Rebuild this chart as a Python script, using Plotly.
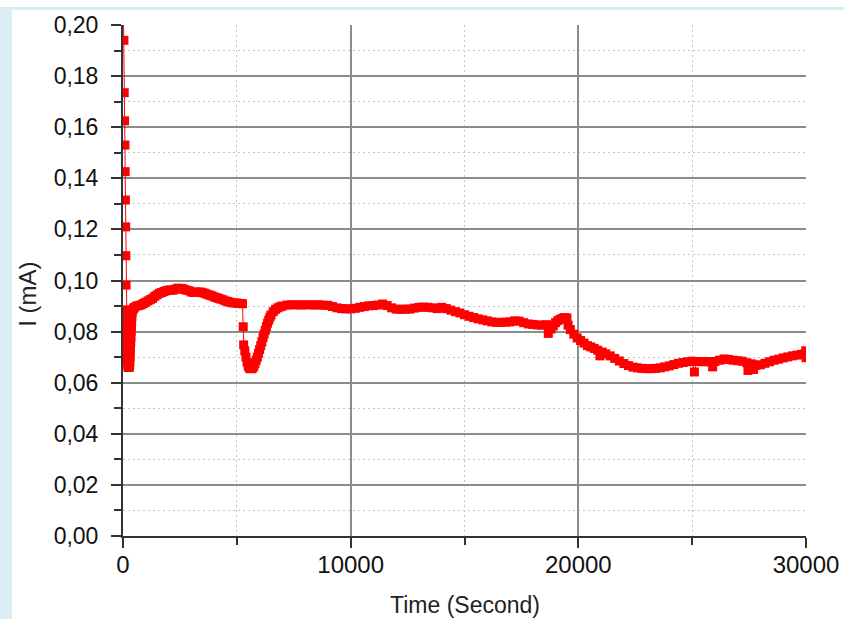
import plotly.graph_objects as go

# ---- data ----
time_s = [
    10, 40, 55, 70, 85, 95, 105, 115, 125, 135, 140,
    150, 155, 160, 165, 170, 175, 180, 185, 190, 195, 200, 210, 230, 250, 270, 290,
    300, 310, 320, 330, 340, 350, 360, 370, 380, 390, 400, 430, 460, 500,
    600, 700, 800, 900, 1000, 1100, 1200, 1300, 1400, 1500, 1600, 1700, 1800, 1900,
    2000, 2100, 2200, 2300, 2400, 2500, 2600, 2700, 2800, 2900, 3000, 3100, 3200,
    3300, 3400, 3500, 3600, 3700, 3800, 3900, 4000, 4100, 4200, 4300, 4400, 4500,
    4600, 4700, 4800, 4900, 5000, 5100, 5200, 5250, 5280, 5300, 5350, 5400, 5450,
    5500, 5550, 5600, 5650, 5700, 5750, 5800, 5850, 5900, 5950, 6000, 6050, 6100,
    6150, 6200, 6250, 6300, 6350, 6400, 6450, 6500, 6600, 6700, 6800, 6900, 7000,
    7200, 7400, 7600, 7800, 8000, 8200, 8400, 8600, 8800, 9000, 9200, 9400, 9600,
    9800, 10000, 10200, 10400, 10600, 10800, 11000, 11200, 11400, 11600, 11800,
    12000, 12200, 12400, 12600, 12800, 13000, 13200, 13400, 13600, 13800, 14000,
    14200, 14400, 14600, 14800, 15000, 15200, 15400, 15600, 15800, 16000, 16200,
    16400, 16600, 16800, 17000, 17200, 17400, 17600, 17800, 18000, 18200, 18400,
    18600, 18680, 18800, 18900, 19000, 19100, 19200, 19300, 19400, 19500, 19550,
    19650, 19800, 19950, 20100, 20250, 20400, 20550, 20700, 20850, 20950, 21050,
    21200, 21400, 21600, 21800, 22000, 22200, 22400, 22600, 22800, 23000, 23200,
    23400, 23600, 23800, 24000, 24200, 24400, 24600, 24800, 25000, 25100, 25200,
    25400, 25600, 25800, 25900, 26000, 26200, 26400, 26600, 26800, 27000, 27200,
    27400, 27450, 27600, 27700, 27800, 28000, 28200, 28400, 28600, 28800, 29000,
    29200, 29400, 29600, 29800, 29950, 29990, 30000,
]

current_ma = [
    0.210, 0.194, 0.1735, 0.1625, 0.153, 0.1426, 0.1315, 0.121, 0.1097, 0.0982, 0.0885,
    0.0878, 0.086, 0.084, 0.082, 0.080, 0.078, 0.076, 0.074, 0.072, 0.070, 0.068, 0.0665, 0.066, 0.066, 0.066, 0.0665,
    0.068, 0.070, 0.072, 0.074, 0.076, 0.078, 0.080, 0.082, 0.084, 0.086, 0.0875, 0.0885, 0.089, 0.0895,
    0.0900, 0.0902, 0.0905, 0.0910, 0.0915, 0.0920, 0.0925, 0.0930, 0.0938, 0.0944, 0.0950, 0.0953, 0.0957, 0.0960,
    0.0962, 0.0963, 0.0962, 0.0966, 0.0970, 0.0968, 0.0969, 0.0965, 0.0962, 0.0960, 0.0955, 0.0953, 0.0955,
    0.0954, 0.0955, 0.0952, 0.0950, 0.0946, 0.0943, 0.0940, 0.0936, 0.0933, 0.0930, 0.0927, 0.0924, 0.0920,
    0.0918, 0.0915, 0.0913, 0.0912, 0.0912, 0.0910, 0.0910, 0.0909, 0.0819, 0.0748, 0.0725, 0.0700, 0.0680,
    0.0665, 0.0657, 0.0655, 0.0655, 0.0658, 0.0665, 0.0676, 0.0688, 0.0700, 0.0715, 0.0730, 0.0745, 0.0760,
    0.0777, 0.0790, 0.0805, 0.0820, 0.0833, 0.0845, 0.0856, 0.0865, 0.0878, 0.0887, 0.0893, 0.0897, 0.0900,
    0.0904, 0.0905, 0.0905, 0.0904, 0.0905, 0.0905, 0.0904, 0.0905, 0.0903, 0.0903, 0.0898, 0.0893, 0.0890,
    0.0889, 0.0889, 0.0891, 0.0895, 0.0898, 0.0901, 0.0902, 0.0904, 0.0908, 0.0902, 0.0893,
    0.0888, 0.0887, 0.0888, 0.0888, 0.0892, 0.0895, 0.0896, 0.0895, 0.0893, 0.0890, 0.0895,
    0.0890, 0.0884, 0.0878, 0.0873, 0.0866, 0.0860, 0.0855, 0.0850, 0.0846, 0.0842, 0.0838,
    0.0836, 0.0836, 0.0837, 0.0838, 0.0842, 0.0841, 0.0835, 0.0830, 0.0828, 0.0826, 0.0825,
    0.0827, 0.0793, 0.0810, 0.0822, 0.0835, 0.0843, 0.0848, 0.0852, 0.0855, 0.0853, 0.0825,
    0.0808, 0.0790, 0.0775, 0.0765, 0.0755, 0.0745, 0.0740, 0.0734, 0.0727, 0.0705, 0.0720,
    0.0713, 0.0705, 0.0695, 0.0685, 0.0675, 0.0667, 0.0661, 0.0658, 0.0656, 0.0655, 0.0655,
    0.0656, 0.0658, 0.0662, 0.0666, 0.0671, 0.0676, 0.0679, 0.0682, 0.0684, 0.0642, 0.0683,
    0.0682, 0.0683, 0.0681, 0.0662, 0.0683, 0.0688, 0.0693, 0.0691, 0.0688, 0.0686, 0.0684,
    0.0678, 0.0648, 0.0674, 0.0652, 0.0668, 0.0670, 0.0676, 0.0682, 0.0688, 0.0692, 0.0697,
    0.0701, 0.0705, 0.0708, 0.0711, 0.0713, 0.0725, 0.0698,
]

x_tick_vals = [0, 10000, 20000, 30000]
x_tick_text = ["0", "10000", "20000", "30000"]
x_minor_vals = [5000, 15000, 25000]
y_tick_vals = [0.00, 0.02, 0.04, 0.06, 0.08, 0.10, 0.12, 0.14, 0.16, 0.18, 0.20]
y_tick_text = ["0,00", "0,02", "0,04", "0,06", "0,08", "0,10", "0,12", "0,14", "0,16", "0,18", "0,20"]
y_minor_vals = [0.01, 0.03, 0.05, 0.07, 0.09, 0.11, 0.13, 0.15, 0.17, 0.19]

x_title = "Time (Second)"
y_title = "I (mA)"

FONT = "Liberation Sans, Arial, sans-serif"
RED = "#ff0000"
AXIS = "#333333"
BLUE = "#dbedf4"

fig = go.Figure()
fig.add_trace(go.Scatter(
    x=time_s, y=current_ma, mode="lines+markers",
    line=dict(color=RED, width=1),
    marker=dict(symbol="square", size=9, color=RED, line=dict(width=0)),
    showlegend=False,
    cliponaxis=True,
))

fig.update_layout(
    width=844, height=619,
    margin=dict(l=123, r=38, t=25, b=83, autoexpand=False),
    paper_bgcolor="white", plot_bgcolor="white",
    font=dict(family=FONT, size=22, color="#111111"),
    xaxis=dict(
        range=[0, 30000], tickmode="array", tickvals=x_tick_vals, ticktext=x_tick_text,
        automargin=False,
        showline=True, linecolor=AXIS, linewidth=2,
        ticks="outside", ticklen=10, tickwidth=2, tickcolor=AXIS,
        ticklabelstandoff=-4,
        showgrid=True, gridcolor="#8c8c8c", gridwidth=1.5, zeroline=False,
        tickfont=dict(size=24),
        minor=dict(tickmode="array", tickvals=x_minor_vals, ticks="outside", ticklen=7,
                   tickwidth=2, tickcolor=AXIS, showgrid=True, gridcolor="#c4c4c4",
                   gridwidth=1, griddash="2px,3px"),
    ),
    yaxis=dict(
        range=[0, 0.20], tickmode="array", tickvals=y_tick_vals, ticktext=y_tick_text,
        automargin=False,
        showline=True, linecolor=AXIS, linewidth=2,
        ticks="outside", ticklen=10, tickwidth=2, tickcolor=AXIS,
        ticklabelstandoff=8,
        showgrid=True, gridcolor="#8c8c8c", gridwidth=1.5, zeroline=False,
        tickfont=dict(size=23),
        minor=dict(tickmode="array", tickvals=y_minor_vals, ticks="outside", ticklen=7,
                   tickwidth=2, tickcolor=AXIS, showgrid=True, gridcolor="#c4c4c4",
                   gridwidth=1, griddash="2px,3px"),
    ),
    annotations=[
        dict(text=x_title, xref="paper", yref="paper", x=0.5, y=-0.1355,
             xanchor="center", yanchor="middle", showarrow=False,
             font=dict(family=FONT, size=23, color="#222222")),
        dict(text=y_title, xref="paper", yref="paper", x=-0.139, y=0.472,
             xanchor="center", yanchor="middle", textangle=-90, showarrow=False,
             font=dict(family=FONT, size=24, color="#222222")),
    ],
    shapes=[
        dict(type="rect", xref="paper", yref="paper", x0=-0.1801, x1=1.0556,
             y0=1.0294, y1=1.0352, fillcolor=BLUE, line=dict(width=0), layer="below"),
        dict(type="rect", xref="paper", yref="paper", x0=-0.1801, x1=-0.1625,
             y0=-0.1625, y1=1.0352, fillcolor=BLUE, line=dict(width=0), layer="below"),
    ],
)

fig.write_html("out.html")
